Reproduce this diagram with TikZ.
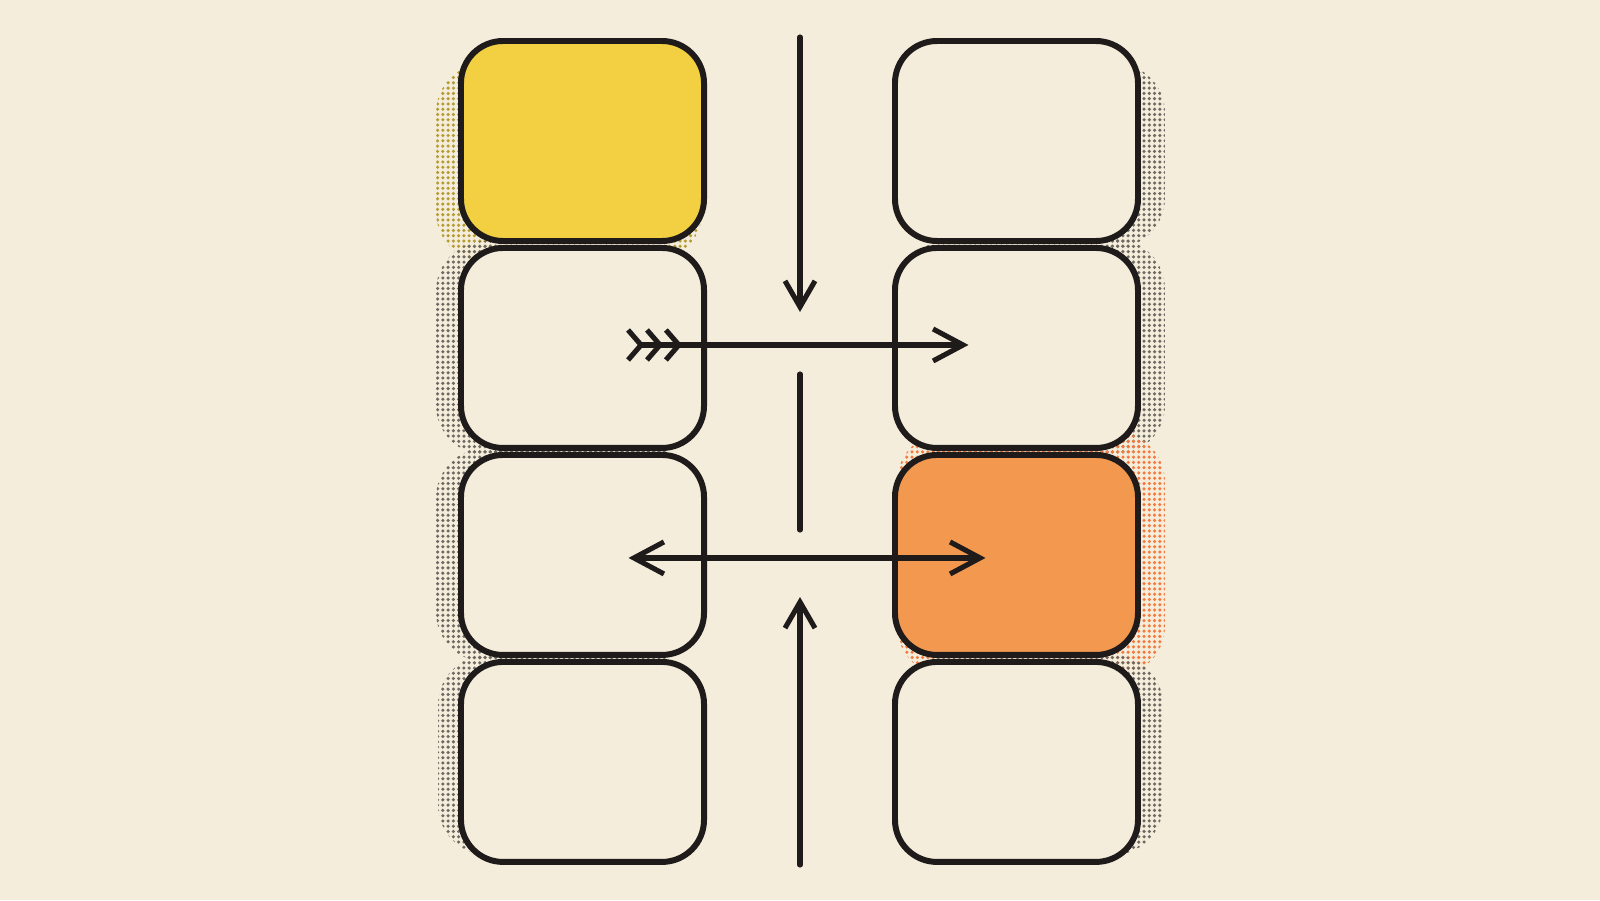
\documentclass[tikz,border=0pt]{standalone}
\usepackage{tikz}
\definecolor{paper}{RGB}{244,237,219}
\definecolor{ink}{RGB}{31,27,27}
\definecolor{mustard}{RGB}{242,208,66}
\definecolor{tangerine}{RGB}{243,152,79}
\definecolor{halftone}{RGB}{110,105,98}
\usetikzlibrary{positioning,calc,backgrounds,arrows.meta,patterns.meta}
\tikzstyle{cell} = [
 rectangle,
 draw=ink,
 line width=1.7pt,
 fill=paper,
 rounded corners=0.42cm,
 minimum width=2.43cm,
 minimum height=2cm
]
\tikzstyle{flow} = [
 draw=ink,
 line width=1.45pt,
 line cap=round,
 line join=round
]
\tikzstyle{dotShadow} = [
 pattern={Dots[distance=1.5pt,radius=0.5pt]},
 pattern color=halftone,
 rounded corners=0.5cm
]

\begin{document}
\begin{tikzpicture}
  \useasboundingbox (0,0) rectangle (16,9);
  % left column
  \node [cell, fill=mustard] (l1) at (5.825,7.59) {};
  \node [cell, below=0.01cm of l1] (l2) {};
  \node [cell, below=0.01cm of l2] (l3) {};
  \node [cell, below=0.01cm of l3] (l4) {};
  % right column
  \node [cell, right=1.85cm of l1] (r1) {};
  \node [cell, below=0.01cm of r1] (r2) {};
  \node [cell, fill=tangerine, below=0.01cm of r2] (r3) {};
  \node [cell, below=0.01cm of r3] (r4) {};

  % halftone shadows
  \begin{pgfonlayer}{background}
    \fill [paper] (0,0) rectangle (16,9);
    \fill [dotShadow, pattern color=mustard!75!black]
      ($(l1.south west)+(-0.22,-0.18)$) rectangle ($(l1.north east)+(-0.05,-0.25)$);
    \fill [dotShadow] ($(l2.south west)+(-0.22,-0.04)$) rectangle ($(l2.north east)+(-0.1,0.04)$);
    \fill [dotShadow] ($(l3.south west)+(-0.22,-0.04)$) rectangle ($(l3.north east)+(-0.1,0.04)$);
    \fill [dotShadow] ($(l4.south west)+(-0.2,0.1)$) rectangle ($(l4.north east)+(-0.1,0.04)$);
    \fill [dotShadow] ($(r1.south west)+(0.1,-0.04)$) rectangle ($(r1.north east)+(0.24,-0.25)$);
    \fill [dotShadow] ($(r2.south west)+(0.1,-0.04)$) rectangle ($(r2.north east)+(0.24,0.06)$);
    \fill [dotShadow, pattern color=tangerine!80!red]
      ($(r3.south west)+(0.05,-0.18)$) rectangle ($(r3.north east)+(0.24,0.2)$);
    \fill [dotShadow] ($(r4.south west)+(0.1,0.1)$) rectangle ($(r4.north east)+(0.22,0.04)$);
  \end{pgfonlayer}

  % flow lines in the gap
  \coordinate (topIn) at (8,8.63);
  \coordinate (topOut) at (8,5.88);
  \coordinate (midTop) at (8,5.26);
  \coordinate (midBot) at (8,3.70);
  \coordinate (botIn) at (8,0.35);
  \coordinate (botOut) at (8,3.03);
  \draw [flow, -{Straight Barb[length=2.6mm,width=3mm]}] (topIn) -- (topOut);
  \draw [flow] (midTop) -- (midBot);
  \draw [flow, -{Straight Barb[length=2.6mm,width=3mm]}] (botIn) -- (botOut);

  \draw [flow, {Straight Barb[reversed,length=1.3mm,width=3mm] Straight Barb[reversed,length=1.3mm,width=3mm] Straight Barb[reversed,length=1.3mm,width=3mm]}-{Straight Barb[length=3mm,width=3.2mm]}]
    ([xshift=4.3mm,yshift=0.3mm]l2.center) -- ([xshift=-4.8mm,yshift=0.3mm]r2.center);
  \draw [flow, {Straight Barb[length=3mm,width=3.2mm]}-{Straight Barb[length=3mm,width=3.2mm]}]
    ([xshift=4.6mm,yshift=-0.3mm]l3.center) -- ([xshift=-3.1mm,yshift=-0.3mm]r3.center);
\end{tikzpicture}
\end{document}
